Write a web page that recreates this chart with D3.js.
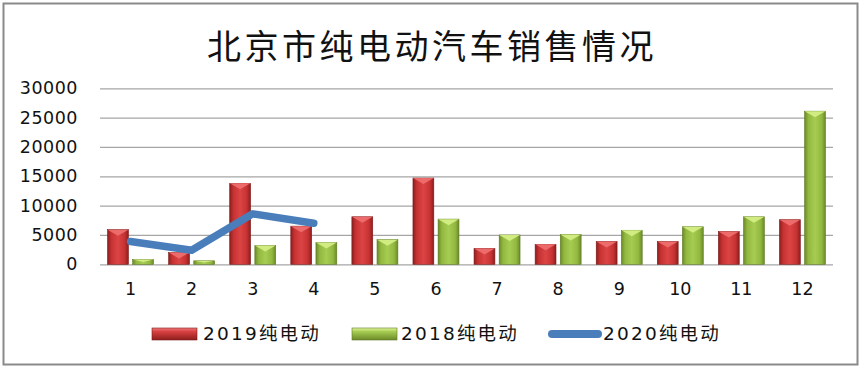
<!DOCTYPE html>
<html><head><meta charset="utf-8">
<script src="https://cdn.jsdelivr.net/npm/d3@7"></script>
<style>body{margin:0;background:#fff}svg{display:block}</style>
</head><body>
<script>
const months = ["1","2","3","4","5","6","7","8","9","10","11","12"];
const sales2019 = [5900, 2000, 13800, 6500, 8100, 14700, 2700, 3400, 3900, 3900, 5600, 7600];
const sales2018 = [800, 600, 3200, 3700, 4200, 7700, 5000, 5100, 5800, 6400, 8100, 26100];
const sales2020 = [3900, 2400, 8600, 7000];
const yTicks = [0, 5000, 10000, 15000, 20000, 25000, 30000];
const seriesNames = ["2019纯电动", "2018纯电动", "2020纯电动"];
const title = "北京市纯电动汽车销售情况";

const W = 866, H = 370;
const svg = d3.select("body").append("svg").attr("width", W).attr("height", H);
const defs = svg.append("defs");

function hGrad(id, edge, mid, center) {
  const g = defs.append("linearGradient").attr("id", id).attr("x1", "0").attr("x2", "1").attr("y1", "0").attr("y2", "0");
  [[0, edge], [0.18, mid], [0.5, center], [0.82, mid], [1, edge]].forEach(([o, c]) =>
    g.append("stop").attr("offset", o).attr("stop-color", c));
}
function vGrad(id, top, mid, bot) {
  const g = defs.append("linearGradient").attr("id", id).attr("x1", "0").attr("x2", "0").attr("y1", "0").attr("y2", "1");
  [[0, top], [0.3, mid], [1, bot]].forEach(([o, c]) => g.append("stop").attr("offset", o).attr("stop-color", c));
}
hGrad("gRed", "#8e1e1e", "#c63232", "#dc4444");
hGrad("gGreen", "#6b8a28", "#92b840", "#a6cc52");
vGrad("lRed", "#f07a7a", "#d84040", "#8e1e1e");
vGrad("lGreen", "#e2f59a", "#a6cc52", "#6b8a28");

// frame
svg.append("rect").attr("x", 3.5).attr("y", 3.5).attr("width", 854).attr("height", 361)
  .attr("fill", "#fff").attr("stroke", "#8a8a8a").attr("stroke-width", 2);

// title
svg.append("text").attr("x", 432).attr("y", 59).attr("text-anchor", "middle")
  .attr("font-family", "'Noto Sans CJK SC', sans-serif").attr("font-size", 34)
  .attr("letter-spacing", 3.5).attr("fill", "#111").text(title);

const x0 = d3.scaleBand().domain(months).range([100, 833]).paddingInner(0.247).paddingOuter(0.1235);
const x1 = d3.scaleBand().domain(["2019", "2018"]).range([0, x0.bandwidth()]).paddingInner(0.17);
const y = d3.scaleLinear().domain([0, 30000]).range([264.3, 88.3]);

// gridlines
const yAxis = d3.axisLeft(y).tickValues(yTicks).tickSize(-733).tickPadding(22).tickFormat(d3.format("d"));
const gy = svg.append("g").attr("transform", "translate(100,0)").call(yAxis);
gy.select(".domain").remove();
gy.selectAll(".tick line").attr("stroke", "#a6a6a6").attr("stroke-width", 1.3);
gy.selectAll(".tick text").attr("font-family", "'DejaVu Sans', sans-serif").attr("font-size", 17.5)
  .attr("letter-spacing", 0.5).attr("fill", "#111");

// x axis labels
const xAxis = d3.axisBottom(x0).tickSize(0).tickPadding(18);
const gx = svg.append("g").attr("transform", "translate(0,264.3)").call(xAxis);
gx.select(".domain").remove();
gx.selectAll(".tick text").attr("font-family", "'DejaVu Sans', sans-serif").attr("font-size", 17.5).attr("fill", "#111");

// bars
function drawBars(values, key, fill, topFill, stroke) {
  const g = svg.append("g");
  months.forEach((m, i) => {
    const bx = x0(m) + x1(key), bw = x1.bandwidth();
    const top = y(values[i]), base = y(0);
    g.append("rect").attr("x", bx).attr("y", top).attr("width", bw).attr("height", base - top)
      .attr("fill", `url(#${fill})`).attr("stroke", stroke).attr("stroke-width", 0.6);
    const bev = Math.min(6, (base - top) / 2);
    g.append("polygon")
      .attr("points", `${bx},${top} ${bx + bw},${top} ${bx + bw / 2},${top + bev}`)
      .attr("fill", topFill).attr("opacity", 0.9);
  });
}
drawBars(sales2019, "2019", "gRed", "#f07070", "#7a1818");
drawBars(sales2018, "2018", "gGreen", "#d6ef86", "#5d7a22");

// 2020 line
const line = d3.line().x((d, i) => x0(months[i]) + x0.bandwidth() / 2).y(d => y(d));
svg.append("path").datum(sales2020).attr("d", line).attr("fill", "none")
  .attr("stroke", "#4a7ebb").attr("stroke-width", 7.5)
  .attr("stroke-linecap", "round").attr("stroke-linejoin", "round");

// legend
const lg = svg.append("g");
const legFont = "'DejaVu Sans', 'Noto Sans CJK SC', sans-serif";
lg.append("rect").attr("x", 152).attr("y", 328).attr("width", 45).attr("height", 12)
  .attr("fill", "url(#lRed)").attr("stroke", "#7a1818").attr("stroke-width", 0.6);
lg.append("rect").attr("x", 352).attr("y", 328).attr("width", 45).attr("height", 12)
  .attr("fill", "url(#lGreen)").attr("stroke", "#5d7a22").attr("stroke-width", 0.6);
lg.append("line").attr("x1", 552).attr("x2", 598).attr("y1", 334).attr("y2", 334)
  .attr("stroke", "#4a7ebb").attr("stroke-width", 8).attr("stroke-linecap", "round");
[[203, 0], [401, 1], [603, 2]].forEach(([tx, k]) => {
  lg.append("text").attr("x", tx).attr("y", 340).attr("font-family", legFont)
    .attr("font-size", 18.5).attr("letter-spacing", 2.2).attr("fill", "#111").text(seriesNames[k]);
});
</script>
</body></html>
